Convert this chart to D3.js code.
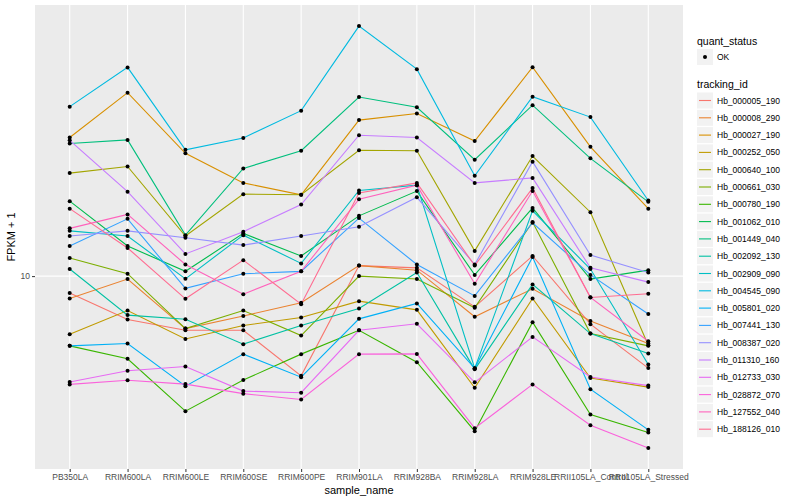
<!DOCTYPE html>
<html>
<head>
<meta charset="utf-8">
<script src="https://cdn.jsdelivr.net/npm/d3@7"></script>
<style>
body { margin: 0; background: #fff; }
text { font-family: "Liberation Sans", Arial, sans-serif; }
</style>
</head>
<body>
<div id="chart-area"></div>
<script>
// x categories
const samples = ["PB350LA", "RRIM600LA", "RRIM600LE", "RRIM600SE", "RRIM600PE", "RRIM901LA",
    "RRIM928BA", "RRIM928LA", "RRIM928LE", "RRII105LA_Control", "RRII105LA_Stressed"];

const trackingIds = ["Hb_000005_190", "Hb_000008_290", "Hb_000027_190", "Hb_000252_050", "Hb_000640_100",
    "Hb_000661_030", "Hb_000780_190", "Hb_001062_010", "Hb_001449_040", "Hb_002092_130",
    "Hb_002909_090", "Hb_004545_090", "Hb_005801_020", "Hb_007441_130", "Hb_008387_020",
    "Hb_011310_160", "Hb_012733_030", "Hb_028872_070", "Hb_127552_040", "Hb_188126_010"];

// FPKM + 1 per sample, one array per tracking id
const hb_000005_190 = [8.70, 7.00, 6.41, 6.41, 4.41, 10.9, 10.7, 7.77, 11.8, 6.74, 4.70];
const hb_000008_290 = [8.32, 9.76, 6.50, 7.21, 8.03, 10.9, 10.5, 7.16, 9.01, 6.92, 5.75];
const hb_000027_190 = [31.2, 45.1, 27.4, 21.5, 19.5, 36.0, 38.0, 30.3, 55.6, 28.9, 17.4];
const hb_000252_050 = [6.21, 7.54, 5.97, 6.67, 7.12, 8.14, 7.58, 4.00, 8.32, 4.33, 4.02];
const hb_000640_100 = [23.3, 24.6, 13.9, 19.6, 19.5, 28.1, 28.0, 12.3, 26.8, 16.9, 5.67];
const hb_000661_030 = [11.6, 10.2, 6.50, 7.54, 6.14, 10.0, 9.76, 7.71, 15.6, 6.24, 5.64];
const hb_000780_190 = [5.64, 5.07, 3.30, 4.26, 5.27, 6.41, 4.93, 2.80, 6.85, 3.21, 2.77];
const hb_001062_010 = [18.5, 12.8, 10.4, 14.2, 11.8, 16.4, 20.1, 10.1, 17.5, 9.76, 10.5];
const hb_001449_040 = [29.7, 30.6, 14.0, 24.2, 28.0, 43.5, 40.0, 26.0, 40.7, 26.3, 18.4];
const hb_002092_130 = [10.6, 7.26, 7.02, 5.72, 6.67, 7.67, 10.3, 4.65, 9.34, 6.24, 5.30];
const hb_002909_090 = [14.5, 13.9, 9.78, 14.0, 11.1, 20.2, 21.1, 4.69, 17.1, 10.6, 4.84];
const hb_004545_090 = [40.2, 55.5, 28.2, 31.1, 38.9, 77.9, 54.7, 22.8, 43.6, 36.9, 18.6];
const hb_005801_020 = [5.64, 5.75, 4.05, 5.27, 4.36, 7.04, 7.99, 4.69, 11.7, 3.95, 2.83];
const hb_007441_130 = [12.8, 16.0, 9.04, 10.2, 10.4, 16.1, 11.0, 8.50, 15.5, 10.1, 7.33];
const hb_008387_020 = [13.9, 14.5, 13.7, 12.9, 13.9, 15.0, 19.1, 11.0, 25.6, 11.9, 10.3];
const hb_011310_160 = [30.5, 20.0, 12.0, 14.4, 18.0, 31.8, 31.2, 21.5, 22.4, 10.7, 9.52];
const hb_012733_030 = [4.19, 4.60, 4.76, 3.89, 3.84, 6.41, 6.76, 4.18, 6.07, 4.37, 4.07];
const hb_028872_070 = [4.11, 4.25, 4.12, 3.81, 3.63, 5.27, 5.28, 2.87, 4.11, 2.94, 2.44];
const hb_127552_040 = [14.8, 16.6, 11.0, 8.62, 10.4, 18.8, 21.1, 9.39, 20.1, 8.40, 5.86];
const hb_188126_010 = [17.4, 12.6, 8.30, 11.4, 7.94, 19.8, 21.5, 10.9, 20.6, 8.39, 8.65];

const yTicks = [10];

// ggplot default hue palette for 20 levels
const hueColors = ["#F8766D", "#EA8331", "#D89000", "#C09B00", "#A3A500", "#7CAE00", "#39B600",
    "#00BB4E", "#00BF7D", "#00C1A3", "#00BFC4", "#00BAE0", "#00B0F6", "#35A2FF", "#9590FF",
    "#C77CFF", "#E76BF3", "#FA62DB", "#FF62BC", "#FF6C91"];

const allSeries = [hb_000005_190, hb_000008_290, hb_000027_190, hb_000252_050, hb_000640_100,
    hb_000661_030, hb_000780_190, hb_001062_010, hb_001449_040, hb_002092_130,
    hb_002909_090, hb_004545_090, hb_005801_020, hb_007441_130, hb_008387_020,
    hb_011310_160, hb_012733_030, hb_028872_070, hb_127552_040, hb_188126_010];

const series = trackingIds.map((id, i) => ({
    id: id,
    color: hueColors[i],
    points: samples.map((s, j) => ({sample: s, value: allSeries[i][j]}))
}));

const panel = {left: 35, right: 683, top: 5, bottom: 469};

const svg = d3.select("#chart-area").append("svg")
    .attr("width", 800)
    .attr("height", 500);

// scales
const x = d3.scalePoint()
    .domain(samples)
    .range([panel.left, panel.right])
    .padding(0.6);

const allVals = allSeries.flat();
const logExt = d3.extent(allVals).map(Math.log10);
const pad = (logExt[1] - logExt[0]) * 0.05;
const y = d3.scaleLog()
    .domain([Math.pow(10, logExt[0] - pad), Math.pow(10, logExt[1] + pad)])
    .range([panel.bottom, panel.top]);

// panel background + grid
svg.append("rect")
    .attr("x", panel.left)
    .attr("y", panel.top)
    .attr("width", panel.right - panel.left)
    .attr("height", panel.bottom - panel.top)
    .style("fill", "#EBEBEB");

svg.append("g").selectAll("line")
    .data(samples)
    .enter().append("line")
    .attr("x1", d => x(d)).attr("x2", d => x(d))
    .attr("y1", panel.top).attr("y2", panel.bottom)
    .style("stroke", "#fff").style("stroke-width", 1.1);

svg.append("g").selectAll("line")
    .data(yTicks)
    .enter().append("line")
    .attr("x1", panel.left).attr("x2", panel.right)
    .attr("y1", d => y(d)).attr("y2", d => y(d))
    .style("stroke", "#fff").style("stroke-width", 1.1);

// lines
const line = d3.line()
    .x(d => x(d.sample))
    .y(d => y(d.value));

svg.append("g").selectAll("path")
    .data(series)
    .enter().append("path")
    .attr("d", d => line(d.points))
    .style("fill", "none")
    .style("stroke", d => d.color)
    .style("stroke-width", 1.1);

// points on top
svg.append("g").selectAll("circle")
    .data(series.flatMap(s => s.points))
    .enter().append("circle")
    .attr("cx", d => x(d.sample))
    .attr("cy", d => y(d.value))
    .attr("r", 2)
    .style("fill", "#000");

// axes
const xAxis = svg.append("g")
    .attr("transform", `translate(0, ${panel.bottom})`)
    .call(d3.axisBottom(x).tickSize(3).tickPadding(2));
xAxis.select(".domain").remove();
xAxis.selectAll(".tick line").style("stroke", "#333");
xAxis.selectAll("text")
    .style("font-size", "8.5px")
    .style("fill", "#4D4D4D")
    .style("font-family", "Liberation Sans, Arial, sans-serif");

const yAxis = svg.append("g")
    .attr("transform", `translate(${panel.left}, 0)`)
    .call(d3.axisLeft(y).tickValues(yTicks).tickFormat(d3.format("d")).tickSize(3).tickPadding(2));
yAxis.select(".domain").remove();
yAxis.selectAll(".tick line").style("stroke", "#333");
yAxis.selectAll("text")
    .style("font-size", "8.5px")
    .style("fill", "#4D4D4D")
    .style("font-family", "Liberation Sans, Arial, sans-serif");

// axis titles
svg.append("text")
    .attr("x", (panel.left + panel.right) / 2)
    .attr("y", 494)
    .attr("text-anchor", "middle")
    .style("font-size", "11px")
    .text("sample_name");

svg.append("text")
    .attr("transform", `translate(15, ${(panel.top + panel.bottom) / 2}) rotate(-90)`)
    .attr("text-anchor", "middle")
    .style("font-size", "11px")
    .text("FPKM + 1");

// legend: quant_status
const legX = 697;
svg.append("text")
    .attr("x", legX).attr("y", 45)
    .style("font-size", "10.5px")
    .text("quant_status");

svg.append("rect")
    .attr("x", legX).attr("y", 49)
    .attr("width", 16).attr("height", 16)
    .style("fill", "#F2F2F2");
svg.append("circle")
    .attr("cx", legX + 8).attr("cy", 57)
    .attr("r", 2)
    .style("fill", "#000");
svg.append("text")
    .attr("x", legX + 20).attr("y", 60)
    .style("font-size", "8.5px")
    .text("OK");

// legend: tracking_id
svg.append("text")
    .attr("x", legX).attr("y", 88)
    .style("font-size", "10.5px")
    .text("tracking_id");

const keyStep = 17.3;
const keys = svg.append("g").selectAll("g")
    .data(series)
    .enter().append("g")
    .attr("transform", (d, i) => `translate(${legX}, ${92.5 + i * keyStep})`);

keys.append("rect")
    .attr("width", 16).attr("height", 16)
    .style("fill", "#F2F2F2");
keys.append("line")
    .attr("x1", 2).attr("x2", 14)
    .attr("y1", 8).attr("y2", 8)
    .style("stroke", d => d.color)
    .style("stroke-width", 1.1);
keys.append("text")
    .attr("x", 20).attr("y", 11)
    .style("font-size", "8.5px")
    .text(d => d.id);
</script>
</body>
</html>
